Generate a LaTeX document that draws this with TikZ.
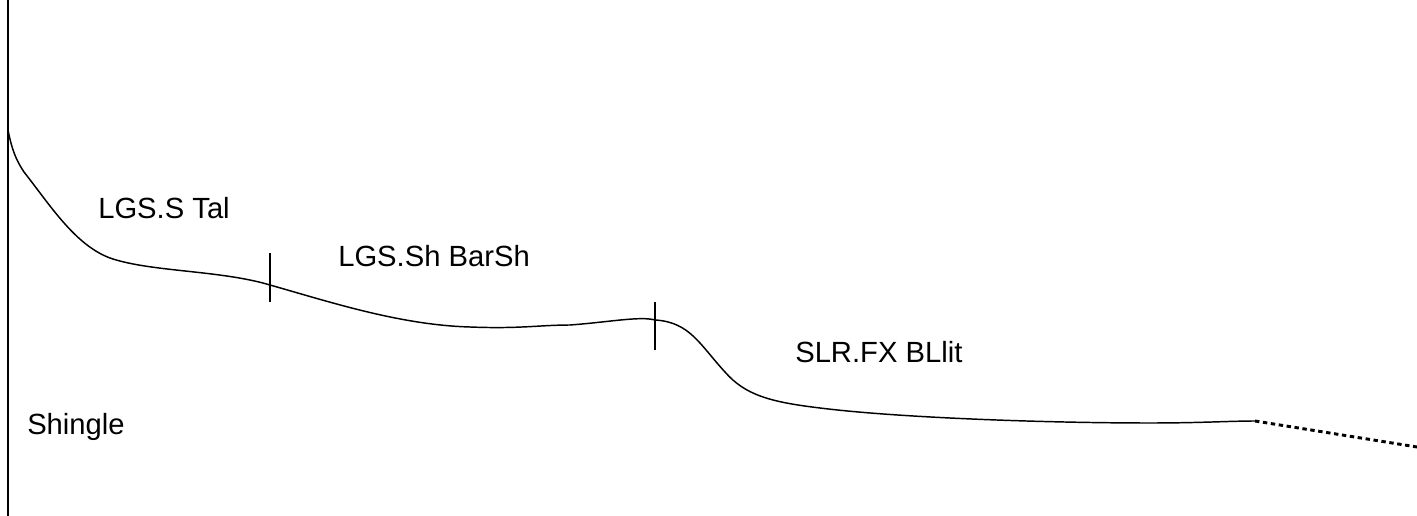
\documentclass[tikz,border=0pt]{standalone}
\usepackage{fontspec}
\setmainfont{Liberation Sans}
\usetikzlibrary{calc}
\begin{document}
\begin{tikzpicture}[x=0.75pt,y=-0.75pt,
  lbl/.style={anchor=base west,inner sep=0pt,font=\fontsize{21.9}{26}\selectfont},
  prof/.style={line width=1.1pt},
  tickmark/.style={line width=1.1pt}]
\useasboundingbox (0,0) rectangle (1417,516);
\draw[prof] (8,0) -- (8,516);
\coordinate (s) at (8,130);
\coordinate (t1) at (270,285);
\coordinate (t2) at (655,320);
\coordinate (e) at (1255,421);
\coordinate (f) at (1417,447);
\draw[prof] (s) .. controls (12,150) and (16,160) .. (24,172)
  .. controls (50,205) and (75,245) .. (110,258)
  .. controls (150,272) and (220,270) .. (t1)
  .. controls (330,302) and (400,325) .. (470,327)
  .. controls (520,329) and (540,325) .. (570,325)
  .. controls (610,322) and (640,316) .. (t2)
  .. controls (690,322) and (700,345) .. (725,372)
  .. controls (745,395) and (770,402) .. (820,408)
  .. controls (900,418) and (1050,423) .. (1150,423)
  .. controls (1200,423) and (1230,421) .. (e);
\draw[line width=2.2pt,dash pattern=on 3.3pt off 2.7pt] (e) -- (f);
\draw[tickmark] ($(t1)+(0,-32)$) -- ($(t1)+(0,17)$);
\draw[tickmark] ($(t2)+(0,-18)$) -- ($(t2)+(0,30)$);
\node[lbl] (a) at (98,219) {LGS.S Tal};
\node[lbl] (b) at (338,267) {LGS.Sh BarSh};
\node[lbl] (c) at (795,363) {SLR.FX BLlit};
\node[lbl] (d) at (27,435) {Shingle};
\end{tikzpicture}
\end{document}
